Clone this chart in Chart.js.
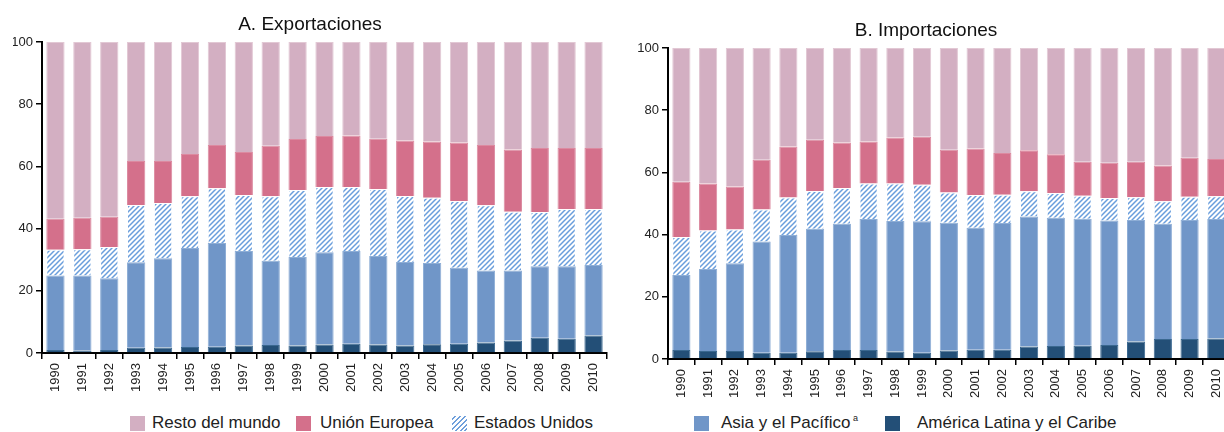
<!DOCTYPE html>
<html lang="es">
<head>
<meta charset="utf-8">
<title>Exportaciones e importaciones</title>
<script src="https://cdn.jsdelivr.net/npm/chart.js@4/dist/chart.umd.min.js"></script>
<style>
    html, body { margin: 0; padding: 0; background: #fff; }
    body { width: 1224px; height: 432px; overflow: hidden; position: relative; font-family: "Liberation Sans", Arial, sans-serif; }
    #exportChart { position: absolute; left: 0; top: 0; }
    #importChart { position: absolute; left: 616px; top: 6px; }
    .legend-box { position: absolute; top: 416px; width: 15px; height: 15px; }
    .legend-text { position: absolute; top: 413px; font-size: 17px; line-height: 20px; color: #222; white-space: nowrap; }
    .legend-text sup { font-size: 9px; vertical-align: 7px; line-height: 0; }
    .hatch { background: repeating-linear-gradient(135deg, #fff 0px, #fff 2px, #6fa0dc 2px, #6fa0dc 3.4px); }
</style>
</head>
<body>
<canvas id="exportChart" width="620" height="400"></canvas>
<canvas id="importChart" width="620" height="400"></canvas>

<div class="legend-box" style="left:130px;background:#d3afc2"></div>
<div class="legend-text" style="left:152px">Resto del mundo</div>
<div class="legend-box" style="left:296px;background:#d4708b"></div>
<div class="legend-text" style="left:320px">Unión Europea</div>
<div class="legend-box hatch" style="left:452px"></div>
<div class="legend-text" style="left:474px">Estados Unidos</div>
<div class="legend-box" style="left:694px;background:#7096c8"></div>
<div class="legend-text" style="left:721px">Asia y el Pacífico<sup> a</sup></div>
<div class="legend-box" style="left:885px;background:#234f77"></div>
<div class="legend-text" style="left:917px">América Latina y el Caribe</div>

<script>
const years = ['1990', '1991', '1992', '1993', '1994', '1995', '1996', '1997', '1998', '1999', '2000',
    '2001', '2002', '2003', '2004', '2005', '2006', '2007', '2008', '2009', '2010'];
const yTicks = [0, 20, 40, 60, 80, 100];

// A. Exportaciones (% share, stacked from bottom)
const expLatam = [1.0, 0.8, 1.0, 1.7, 1.8, 1.9, 2.0, 2.4, 2.6, 2.4, 2.7, 3.0, 2.7, 2.4, 2.8, 3.0, 3.4, 4.0, 4.9, 4.6, 5.6];
const expAsia  = [23.9, 24.1, 23.0, 27.5, 28.7, 31.9, 33.4, 30.4, 27.1, 28.5, 29.7, 29.8, 28.5, 26.9, 26.1, 24.4, 23.1, 22.5, 23.0, 23.3, 22.7];
const expUsa   = [8.3, 8.5, 10.1, 18.4, 17.7, 16.6, 17.6, 18.0, 20.7, 21.5, 21.0, 20.6, 21.5, 21.2, 21.0, 21.5, 21.0, 18.9, 17.4, 18.4, 18.0];
const expEu    = [10.0, 10.1, 9.7, 14.1, 13.5, 13.6, 13.9, 13.8, 16.2, 16.4, 16.4, 16.5, 16.2, 17.8, 18.1, 18.8, 19.4, 20.0, 20.6, 19.6, 19.6];
const expRest  = [56.8, 56.5, 56.2, 38.3, 38.3, 36.0, 33.1, 35.4, 33.4, 31.2, 30.2, 30.1, 31.1, 31.7, 32.0, 32.3, 33.1, 34.6, 34.1, 34.1, 34.1];

// B. Importaciones
const impLatam = [2.9, 2.6, 2.6, 2.0, 2.0, 2.5, 2.9, 2.9, 2.4, 2.0, 2.7, 3.0, 3.0, 4.0, 4.2, 4.3, 4.5, 5.6, 6.4, 6.4, 6.6];
const impAsia  = [24.1, 26.3, 28.2, 35.8, 37.9, 39.4, 40.6, 42.1, 42.0, 42.3, 41.1, 39.2, 40.7, 41.8, 41.2, 40.8, 40.0, 39.1, 37.1, 38.3, 38.4];
const impUsa   = [12.2, 12.4, 10.8, 10.3, 12.0, 12.1, 11.5, 11.4, 12.0, 11.7, 9.7, 10.5, 9.1, 8.1, 8.0, 7.4, 7.3, 7.3, 7.2, 7.5, 7.3];
const impEu    = [17.8, 15.1, 13.9, 16.0, 16.4, 16.5, 14.6, 13.5, 14.8, 15.5, 13.8, 15.0, 13.4, 13.2, 12.4, 10.9, 11.3, 11.4, 11.5, 12.5, 12.0];
const impRest  = [43.0, 43.6, 44.5, 35.9, 31.7, 29.5, 30.4, 30.1, 28.8, 28.5, 32.7, 32.3, 33.8, 32.9, 34.2, 36.6, 36.9, 36.6, 37.8, 35.3, 35.7];

document.addEventListener('DOMContentLoaded', () => {
    // padLeft / axis width / padRight chosen so the plot area and title line up with the original
    buildChart('exportChart', 'A. Exportaciones', [expLatam, expAsia, expUsa, expEu, expRest], 13, 29, 13);
    buildChart('importChart', 'B. Importaciones', [impLatam, impAsia, impUsa, impEu, impRest], 3, 49, 3);
});

function hatchPattern() {
    const c = document.createElement('canvas');
    c.width = 5;
    c.height = 5;
    const g = c.getContext('2d');
    g.fillStyle = '#fff';
    g.fillRect(0, 0, 5, 5);
    g.strokeStyle = '#6a9edc';
    g.lineWidth = 1.5;
    g.beginPath();
    g.moveTo(0, 5); g.lineTo(5, 0);
    g.moveTo(-1, 1); g.lineTo(1, -1);
    g.moveTo(4, 6); g.lineTo(6, 4);
    g.stroke();
    return g.createPattern(c, 'repeat');
}

function buildChart(id, title, series, padLeft, axisWidth, padRight) {
    const ctx = document.getElementById(id).getContext('2d');
    const names = ['América Latina y el Caribe', 'Asia y el Pacífico', 'Estados Unidos', 'Unión Europea', 'Resto del mundo'];
    const fills = ['#234f77', '#7096c8', hatchPattern(), '#d4708b', '#d3afc2'];
    const edges = ['#3a6890', '#8eaed6', 'rgba(255,255,255,0.6)', '#dc8aa0', '#e2c8d4'];

    new Chart(ctx, {
        type: 'bar',
        data: {
            labels: years,
            datasets: series.map((values, i) => ({
                label: names[i],
                data: values,
                backgroundColor: fills[i],
                borderColor: edges[i],
                borderWidth: 1,
                barPercentage: 0.68,
                categoryPercentage: 1
            }))
        },
        options: {
            responsive: false,
            animation: false,
            layout: { padding: { left: padLeft, right: padRight, top: 0, bottom: 0 } },
            plugins: {
                legend: { display: false },
                tooltip: { enabled: false },
                title: {
                    display: true,
                    text: title,
                    color: '#111',
                    font: { family: 'Liberation Sans', size: 19, weight: 'normal' },
                    padding: { top: 13, bottom: 6.2 }
                }
            },
            scales: {
                x: {
                    stacked: true,
                    grid: { drawOnChartArea: false, drawTicks: true, tickLength: 6, color: '#000', lineWidth: 1.5 },
                    border: { color: '#000', width: 2 },
                    ticks: {
                        color: '#222',
                        font: { family: 'Liberation Sans', size: 13 },
                        maxRotation: 90,
                        minRotation: 90,
                        padding: 4
                    },
                    afterFit: (s) => { s.height = 47; }
                },
                y: {
                    stacked: true,
                    min: 0,
                    max: 100,
                    afterBuildTicks: (s) => { s.ticks = yTicks.map(v => ({ value: v })); },
                    grid: { drawOnChartArea: false, drawTicks: true, tickLength: 6, color: '#000', lineWidth: 1.5 },
                    border: { color: '#000', width: 2 },
                    ticks: {
                        color: '#222',
                        font: { family: 'Liberation Sans', size: 13 },
                        padding: 3
                    },
                    afterFit: (s) => { s.width = axisWidth; }
                }
            }
        }
    });
}
</script>
</body>
</html>
